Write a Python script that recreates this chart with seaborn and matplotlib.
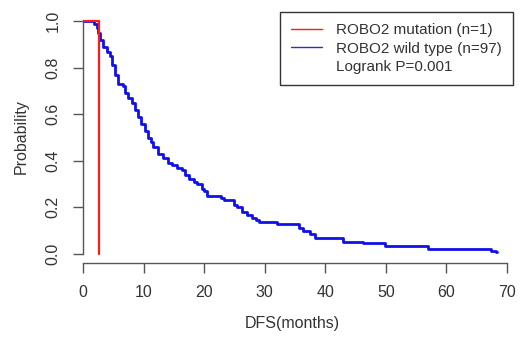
import matplotlib
matplotlib.use("Agg")
import matplotlib.pyplot as plt
from matplotlib.lines import Line2D
import seaborn as sns
import pandas as pd

# ---- data ----
mut_times = [0.0, 2.6]
mut_surv = [1.0, 0.0]

wt_times = [0, 1.8, 2.3, 2.5, 2.8, 3.3, 4.0, 4.5, 4.8, 5.3, 5.8, 6.6, 7.0, 7.4, 8.1,
            8.6, 9.1, 9.5, 10.2, 10.7, 11.2, 11.6, 12.4, 13.2, 14.0, 14.7, 15.5, 16.3,
            16.8, 17.5, 18.3, 18.8, 19.6, 20.0, 20.5, 22.8, 23.2, 25.0, 25.5, 26.2,
            27.0, 27.9, 28.6, 29.0, 32.1, 35.6, 36.3, 37.5, 38.3, 42.9, 46.2, 49.8,
            57.0, 67.3, 68.2, 68.4]
wt_surv = [1.0, 0.99, 0.97, 0.95, 0.92, 0.89, 0.87, 0.85, 0.81, 0.77, 0.73, 0.72,
           0.69, 0.67, 0.65, 0.62, 0.59, 0.56, 0.53, 0.50, 0.48, 0.46, 0.43, 0.41,
           0.39, 0.38, 0.37, 0.36, 0.34, 0.32, 0.31, 0.30, 0.28, 0.27, 0.25, 0.24,
           0.23, 0.21, 0.20, 0.18, 0.165, 0.155, 0.145, 0.136, 0.127, 0.112, 0.097,
           0.084, 0.066, 0.052, 0.044, 0.034, 0.022, 0.013, 0.006, 0.006]

legend_labels = ["ROBO2 mutation (n=1)", "ROBO2 wild type (n=97)", "Logrank P=0.001"]
x_ticks = [0, 10, 20, 30, 40, 50, 60, 70]
y_ticks = [0.0, 0.2, 0.4, 0.6, 0.8, 1.0]
x_label = "DFS(months)"
y_label = "Probability"

# ---- style ----
sns.set_theme(style="white")
plt.rcParams['font.family'] = ['Liberation Sans', 'DejaVu Sans']
text_col = "#333333"
axis_col = "#555555"

fig = plt.figure(figsize=(5.23, 3.45), dpi=100)
ax = fig.add_axes([83/523, 1 - 263/345, (514 - 83)/523, (263 - 12)/345])

wt_df = pd.DataFrame({"t": wt_times, "s": wt_surv})
mut_df = pd.DataFrame({"t": mut_times, "s": mut_surv})

sns.lineplot(data=wt_df, x="t", y="s", ax=ax, color="#1010e8", linewidth=2.0,
             drawstyle="steps-post", estimator=None, sort=False)
sns.lineplot(data=mut_df, x="t", y="s", ax=ax, color="#ff1a1a", linewidth=1.6,
             drawstyle="steps-post", estimator=None, sort=False)

ax.set_xlim(0, 71.16)
ax.set_ylim(-0.04, 1.04)
ax.set_xticks(x_ticks)
ax.set_xticklabels([str(v) for v in x_ticks])
ax.set_yticks(y_ticks)
ax.set_yticklabels([f"{v:.1f}" for v in y_ticks], rotation=90, va="center")

for s in ["top", "right"]:
    ax.spines[s].set_visible(False)
ax.spines["left"].set_bounds(0, 1)
ax.spines["bottom"].set_bounds(0, 70)
for s in ["left", "bottom"]:
    ax.spines[s].set_color(axis_col)
    ax.spines[s].set_linewidth(1.0)

ax.tick_params(axis="both", direction="out", length=7, width=1.0, color=axis_col,
               labelsize=11.5, labelcolor=text_col, bottom=True, left=True)
ax.tick_params(axis="x", pad=9)
ax.tick_params(axis="y", pad=9)

ax.set_xlabel(x_label, fontsize=11.5, color=text_col, va="top")
ax.xaxis.set_label_coords((292.5 - 83) / 431, (263 - 316) / 251)
ax.set_ylabel(y_label, fontsize=11.5, color=text_col)
ax.yaxis.set_label_coords((29 - 83) / 431, (263 - 137) / 251)

handles = [Line2D([], [], color="#ff1a1a", lw=1.0),
           Line2D([], [], color="#3030c0", lw=1.0),
           Line2D([], [], color="none", lw=0)]
leg = ax.legend(handles, legend_labels, loc="upper right",
                bbox_to_anchor=(513/523, 1 - 12/345), bbox_transform=fig.transFigure,
                borderaxespad=0, frameon=True, fancybox=False, framealpha=1,
                edgecolor="#333333", fontsize=11, handlelength=2.0, handletextpad=0.9,
                labelspacing=0.28, borderpad=0.75)
leg.get_frame().set_linewidth(1.0)
for t in leg.get_texts():
    t.set_color(text_col)

fig.savefig("out.png", dpi=100)
